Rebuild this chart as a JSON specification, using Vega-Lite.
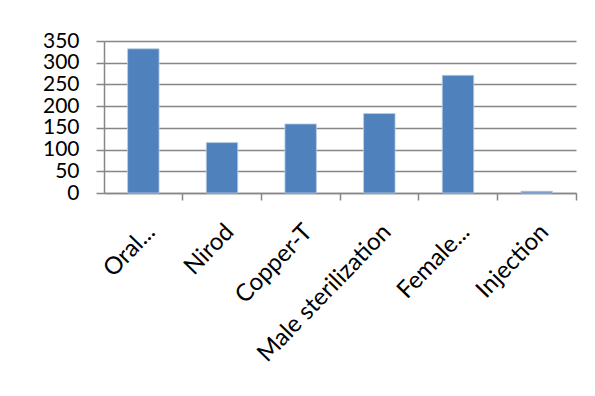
{
  "$schema": "https://vega.github.io/schema/vega-lite/v6.json",
  "autosize": "none",
  "width": 472,
  "height": 152,
  "padding": {"left": 104, "top": 41, "right": 19, "bottom": 203},
  "background": "white",
  "config": {
    "view": {"stroke": null},
    "font": "Lato"
  },
  "data": {
    "values": [
      {"method": "Oral...", "count": 332},
      {"method": "Nirod", "count": 116},
      {"method": "Copper-T", "count": 159},
      {"method": "Male sterilization", "count": 183},
      {"method": "Female...", "count": 271},
      {"method": "Injection", "count": 4}
    ]
  },
  "mark": {"type": "bar", "width": {"band": 0.4}, "color": "#4F81BD", "stroke": "#b9cde5", "strokeWidth": 0.8},
  "encoding": {
    "x": {
      "field": "method",
      "type": "nominal",
      "sort": null,
      "scale": {"paddingInner": 0, "paddingOuter": 0},
      "axis": {
        "title": null,
        "bandPosition": 1,
        "labelAngle": -46,
        "labelAlign": "right",
        "labelBaseline": "middle",
        "labelFont": "Lato",
        "labelFontSize": 24,
        "labelColor": "#000000",
        "labelPadding": 28,
        "labelOffset": 8,
        "labelLimit": 400,
        "labelOverlap": false,
        "tickSize": 7,
        "tickColor": "#868686",
        "tickWidth": 1.5,
        "domainColor": "#868686",
        "domainWidth": 1.5,
        "grid": false
      }
    },
    "y": {
      "field": "count",
      "type": "quantitative",
      "scale": {"domain": [0, 350], "nice": false},
      "axis": {
        "title": null,
        "values": [0, 50, 100, 150, 200, 250, 300, 350],
        "labelFont": "Lato",
        "labelFontSize": 21,
        "labelColor": "#000000",
        "labelPadding": 17,
        "labelOverlap": false,
        "tickSize": 8,
        "tickColor": "#868686",
        "tickWidth": 1.5,
        "domainColor": "#868686",
        "domainWidth": 1.5,
        "grid": true,
        "gridColor": "#868686",
        "gridWidth": 1.5
      }
    }
  }
}
